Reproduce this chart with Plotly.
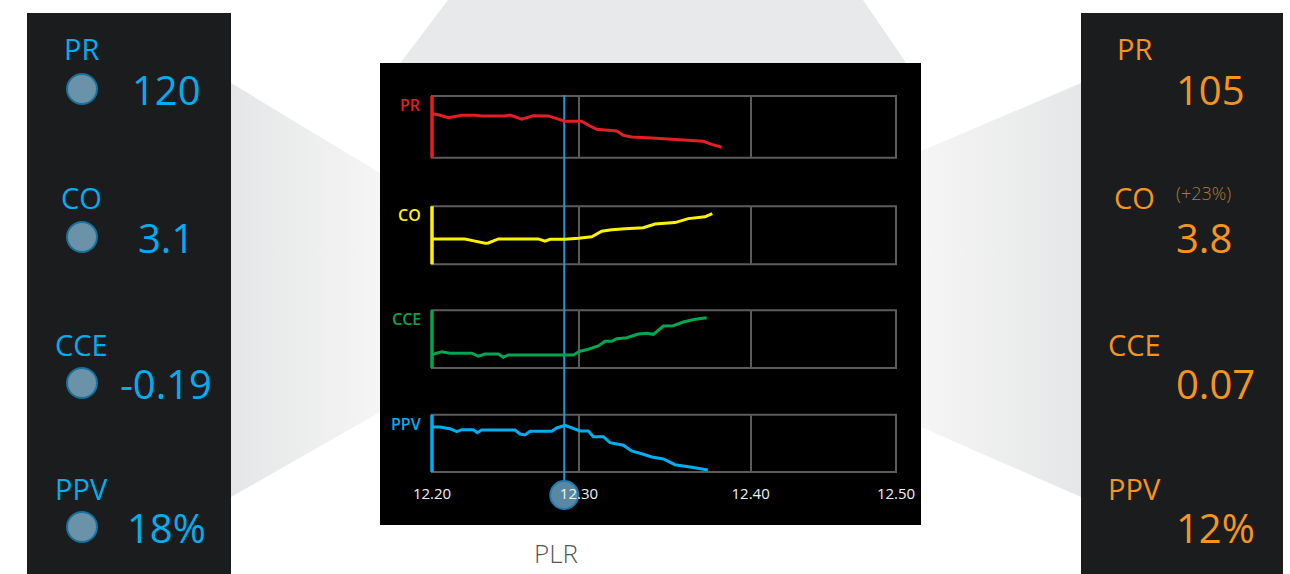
import plotly.graph_objects as go

W, H = 1290, 574

# ---------------- data ----------------
TIME_TICKS = [0, 9.5, 20.6, 30]
TIME_LABELS = ["12.20", "12.30", "12.40", "12.50"]
CURSOR_T = 8.55

PR_T = [0.0, 0.41, 1.05, 1.92, 2.78, 3.21, 4.72, 5.04, 5.80, 6.55, 7.52, 8.17, 8.60, 9.68,
        10.11, 10.65, 11.94, 12.37, 12.91, 14.21, 15.93, 17.54, 18.09, 18.73]
PR_V = [124.4, 123.8, 122.1, 123.5, 123.5, 123.1, 123.1, 123.6, 121.2, 123.2, 123.1, 121.2,
        120.0, 120.0, 117.7, 115.4, 114.4, 111.9, 110.9, 110.4, 109.4, 108.5, 106.7, 105.0]

CO_T = [0.0, 2.13, 2.78, 3.43, 3.64, 4.29, 6.87, 7.31, 7.63, 8.60, 9.46, 10.33, 10.97, 11.62,
        12.48, 13.66, 14.42, 15.71, 16.57, 17.65, 18.12]
CO_V = [3.10, 3.10, 3.04, 2.98, 2.99, 3.10, 3.10, 3.04, 3.09, 3.09, 3.12, 3.16, 3.31, 3.35,
        3.38, 3.41, 3.51, 3.55, 3.66, 3.71, 3.80]

CCE_T = [0.0, 0.63, 1.16, 2.57, 2.99, 3.43, 4.29, 4.61, 4.93, 6.01, 8.60, 9.14, 9.57, 10.11,
         10.75, 11.19, 11.62, 11.94, 12.59, 13.34, 13.88, 14.31, 14.96, 15.60, 16.25, 17.01, 17.76]
CCE_V = [-0.188, -0.167, -0.178, -0.178, -0.199, -0.183, -0.183, -0.206, -0.190, -0.190, -0.190,
         -0.190, -0.164, -0.150, -0.127, -0.095, -0.095, -0.076, -0.069, -0.044, -0.039, -0.046,
         0.012, 0.014, 0.040, 0.059, 0.070]

PPV_T = [0.0, 0.52, 1.16, 1.60, 1.92, 2.67, 2.93, 3.21, 5.37, 5.69, 6.01, 6.34, 7.74, 8.06, 8.60,
         9.03, 9.57, 10.11, 10.43, 11.08, 11.51, 12.37, 12.91, 13.66, 14.21, 14.96, 15.71, 16.79, 17.83]
PPV_V = [17.77, 17.77, 17.54, 17.14, 17.41, 17.41, 17.01, 17.37, 17.37, 16.83, 16.70, 17.19, 17.19,
         17.64, 18.00, 17.64, 17.24, 17.24, 16.47, 16.47, 15.66, 15.32, 14.55, 14.11, 13.75, 13.48,
         12.71, 12.36, 12.00]

NAMES = ["PR", "CO", "CCE", "PPV"]
BEFORE_VALUES = ["120", "3.1", "-0.19", "18%"]
AFTER_VALUES = ["105", "3.8", "0.07", "12%"]
AFTER_DELTA = ["", "(+23%)", "", ""]
PANEL_LABEL = "PLR"

# ---------------- styling / layout ----------------
COLORS = ["#e31e24", "#fff200", "#00a651", "#00aeef"]
Y_RANGES = [[99.0, 134.6], [2.40, 4.00], [-0.281, 0.122], [11.73, 19.42]]
PANEL_PX = [(96, 157.7), (206.3, 264.3), (310.3, 368), (414.7, 472)]  # top, bottom (pixels)
CHART_X_PX = (432, 896)
FONT = "Open Sans"
LEFT_COL = "#00aeef"
RIGHT_COL = "#f7941d"
ROW_Y = [(48, 89), (197, 237), (344, 383), (488, 527)]  # label y, value y


def px(x):
    return x / W


def py(y):
    return 1 - y / H


series = [(PR_T, PR_V), (CO_T, CO_V), (CCE_T, CCE_V), (PPV_T, PPV_V)]

fig = go.Figure()

# background pixel-space axes (for gradient wedges and text)
fig.update_layout(
    xaxis=dict(domain=[0, 1], range=[0, W], visible=False, fixedrange=True),
    yaxis=dict(domain=[0, 1], range=[H, 0], visible=False, fixedrange=True),
)

fig.add_trace(go.Scatter(
    x=[231, 380, 380, 231, 231], y=[83, 173, 412, 497, 83], xaxis="x", yaxis="y",
    mode="lines", fill="toself", line=dict(width=0), hoverinfo="skip", showlegend=False,
    fillgradient=dict(type="horizontal", colorscale=[[0, "#e5e6e7"], [1, "#f5f5f5"]])))
fig.add_trace(go.Scatter(
    x=[921, 1081, 1081, 921, 921], y=[151, 83, 497, 427, 151], xaxis="x", yaxis="y",
    mode="lines", fill="toself", line=dict(width=0), hoverinfo="skip", showlegend=False,
    fillgradient=dict(type="horizontal", colorscale=[[0, "#f5f5f5"], [1, "#e5e6e7"]])))

shapes = []
annotations = []


def prect(x0, y0, x1, y1, **kw):
    return dict(type="rect", xref="paper", yref="paper", x0=px(x0), x1=px(x1), y0=py(y1), y1=py(y0),
                layer="below", **kw)


# top trapezoid
shapes.append(dict(type="path", xref="paper", yref="paper",
                   path=f"M {px(448)},{py(0)} L {px(863)},{py(0)} L {px(911)},{py(70)} L {px(395)},{py(70)} Z",
                   fillcolor="#e8e9ea", line=dict(width=0), layer="below"))
shapes.append(prect(27, 13, 231, 600, fillcolor="#1b1c1e", line=dict(width=0)))
shapes.append(prect(1081, 13, 1283, 600, fillcolor="#1b1c1e", line=dict(width=0)))
shapes.append(prect(380, 63, 921, 525, fillcolor="#000000", line=dict(width=0)))

xdom = [px(CHART_X_PX[0]), px(CHART_X_PX[1])]
for i, (name, (t, v), col, yr, (top, bot)) in enumerate(zip(NAMES, series, COLORS, Y_RANGES, PANEL_PX)):
    k = i + 2
    xa, ya = f"x{k}", f"y{k}"
    last = i == 3
    fig.update_layout(**{
        f"xaxis{k}": dict(domain=xdom, anchor=ya, range=[0, 30], tickvals=TIME_TICKS,
                          ticktext=TIME_LABELS, showgrid=True, gridcolor="#5a5a5a", gridwidth=2,
                          zeroline=False, showline=False, ticks="", showticklabels=last,
                          tickfont=dict(family=FONT, size=15, color="#f2f2f2"),
                          ticklabelstandoff=11, fixedrange=True, automargin=False),
        f"yaxis{k}": dict(domain=[py(bot), py(top)], anchor=xa, range=yr,
                          visible=False, fixedrange=True),
    })
    fig.add_trace(go.Scatter(x=t, y=v, xaxis=xa, yaxis=ya, mode="lines",
                             line=dict(color=col, width=3), hoverinfo="skip", showlegend=False))
    shapes.append(prect(CHART_X_PX[0], top, CHART_X_PX[1], bot, fillcolor="rgba(0,0,0,0)",
                        line=dict(color="#5c5c5c", width=2)))
    shapes.append(dict(type="line", xref=f"{xa} domain", yref=f"{ya} domain", x0=0, x1=0, y0=0, y1=1,
                       line=dict(color=col, width=3.5), layer="above"))
    annotations.append(dict(xref="x", yref="y", x=423, y=top - 4, text=name, showarrow=False,
                            xanchor="right", yanchor="top",
                            font=dict(family=FONT, size=16, color=col, weight=600)))

# cursor line and marker
shapes.append(dict(type="line", xref="x5", yref="paper", x0=CURSOR_T, x1=CURSOR_T,
                   y0=py(495), y1=py(95), line=dict(color="#1b9ad6", width=2), layer="below"))
shapes.append(dict(type="circle", xref="x5", yref="paper", xsizemode="pixel", ysizemode="pixel",
                   xanchor=CURSOR_T, yanchor=py(495), x0=-14, x1=14, y0=-14, y1=14,
                   fillcolor="#5a88a3", line=dict(color="#1c7cb0", width=2), layer="below"))

# side panel texts
for i, name in enumerate(NAMES):
    ly, vy = ROW_Y[i]
    annotations.append(dict(xref="x", yref="y", x=81, y=ly, text=name, showarrow=False,
                            xanchor="center", yanchor="middle",
                            font=dict(family=FONT, size=29, color=LEFT_COL)))
    shapes.append(dict(type="circle", xref="paper", yref="paper", x0=px(67), x1=px(97),
                       y0=py(vy + 15), y1=py(vy - 15),
                       fillcolor="#6a93a9", line=dict(color="#17709e", width=2), layer="below"))
    annotations.append(dict(xref="x", yref="y", x=166, y=vy, text=BEFORE_VALUES[i], showarrow=False,
                            xanchor="center", yanchor="middle",
                            font=dict(family=FONT, size=40, color=LEFT_COL)))
    annotations.append(dict(xref="x", yref="y", x=1134, y=ly, text=name, showarrow=False,
                            xanchor="center", yanchor="middle",
                            font=dict(family=FONT, size=29, color=RIGHT_COL)))
    annotations.append(dict(xref="x", yref="y", x=1174, y=vy, text=AFTER_VALUES[i], showarrow=False,
                            xanchor="left", yanchor="middle",
                            font=dict(family=FONT, size=40, color=RIGHT_COL)))
    if AFTER_DELTA[i]:
        annotations.append(dict(xref="x", yref="y", x=1174, y=ly - 4, text=AFTER_DELTA[i],
                                showarrow=False, xanchor="left", yanchor="middle",
                                font=dict(family=FONT, size=18, color="#b8772f", weight=300)))

annotations.append(dict(xref="x", yref="y", x=556, y=573, text=PANEL_LABEL, showarrow=False,
                        xanchor="center", yanchor="bottom",
                        font=dict(family=FONT, size=26, color="#555658", weight=300)))

fig.update_layout(
    width=W, height=H, margin=dict(l=0, r=0, t=0, b=0, pad=0, autoexpand=False),
    paper_bgcolor="#ffffff", plot_bgcolor="rgba(0,0,0,0)",
    shapes=shapes, annotations=annotations, showlegend=False, hovermode=False,
)

fig.write_html("out.html", config={"displayModeBar": False},
               post_script="document.body.style.margin='0px';")
